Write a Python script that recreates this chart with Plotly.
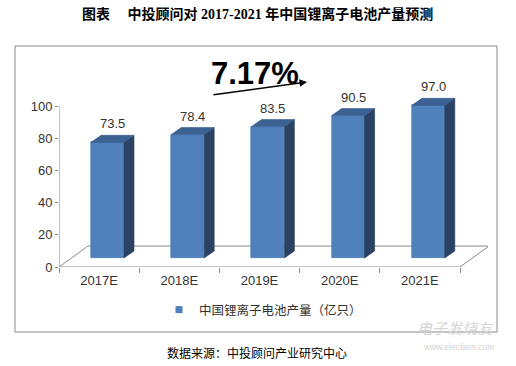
import plotly.graph_objects as go

# ---- data ----
categories = ["2017E", "2018E", "2019E", "2020E", "2021E"]
values = [73.5, 78.4, 83.5, 90.5, 97.0]
y_ticks = [0, 20, 40, 60, 80, 100]
series_name = "中国锂离子电池产量（亿只）"
title_text = "图表　 中投顾问对 2017-2021 年中国锂离子电池产量预测"
source_text = "数据来源：中投顾问产业研究中心"
growth_text = "7.17%"

# ---- layout geometry ----
W, H = 516, 366
ML, MR, MT, MB = 59, 28, 95, 99
PW = W - ML - MR
PH = H - MT - MB


def px_x(px):
    return (px - ML) / PW


def px_y(py):
    return (H - MB - py) / PH


FRONT = "#4F81BD"
SIDE = "#2A4365"
TOP = "#3C6193"
EDGE = "#4374B0"
GRAY = "#8a8a8a"
TXT = "#333333"

BAR_W = 0.41          # front face width (category units)
DX, DY = 0.125, 4.45  # bar depth offset (x2 units, y2 units)
FDX, FDY = 0.362, 13.0  # floor depth offset (x units, y units)

n = len(categories)
idx = list(range(n))

fig = go.Figure()

# front faces of bars
fig.add_trace(go.Bar(
    x=idx, y=values, xaxis="x2", yaxis="y2", width=BAR_W,
    marker=dict(color=FRONT, line=dict(color=EDGE, width=0.6)),
    showlegend=False, name=series_name,
    hovertemplate="%{y:.1f}<extra></extra>",
))

# legend entry
fig.add_trace(go.Scatter(
    x=[None], y=[None], mode="markers", name=series_name,
    marker=dict(symbol="square", size=7, color=FRONT),
))

shapes = []
# side and top faces
for i, v in zip(idx, values):
    xl = i - BAR_W / 2
    xr = i + BAR_W / 2
    shapes.append(dict(
        type="path", xref="x2", yref="y2", layer="above",
        path=f"M{xr},0 L{xr},{v} L{xr + DX},{v + DY} L{xr + DX},{DY} Z",
        fillcolor=SIDE, line=dict(color="#243a58", width=0.6),
    ))
    shapes.append(dict(
        type="path", xref="x2", yref="y2", layer="above",
        path=f"M{xl},{v} L{xr},{v} L{xr + DX},{v + DY} L{xl + DX},{v + DY} Z",
        fillcolor=TOP, line=dict(color="#36598a", width=0.6),
    ))

# floor and y-axis line
x0, x1 = -0.5, n - 0.5
floor_lines = [
    (x0, 0, x1, 0),
    (x0, 0, x0 + FDX, FDY),
    (x0 + FDX, FDY, x1 + FDX, FDY),
    (x1, 0, x1 + FDX, FDY),
    (x0, 0, x0, y_ticks[-1]),
]
for a, b, c, d in floor_lines:
    shapes.append(dict(type="line", xref="x", yref="y", layer="below",
                       x0=a, y0=b, x1=c, y1=d, line=dict(color=GRAY, width=1)))

# outer frame
shapes.append(dict(type="rect", xref="paper", yref="paper",
                   x0=px_x(15), x1=px_x(497), y0=px_y(332), y1=px_y(46),
                   line=dict(color=GRAY, width=1), layer="below"))

annotations = []
# data labels
for i, v in zip(idx, values):
    annotations.append(dict(
        x=i + DX / 2, y=v + DY, xref="x2", yref="y2", text=f"{v:.1f}",
        showarrow=False, yanchor="bottom", yshift=2,
        font=dict(family="Liberation Sans, Arial", size=13, color=TXT),
    ))

# title
annotations.append(dict(
    x=px_x(257), y=px_y(14), xref="paper", yref="paper",
    text="<b>" + title_text + "</b>", showarrow=False,
    xanchor="center", yanchor="middle",
    font=dict(family="Liberation Serif, Noto Sans CJK SC", size=14, color="#000"),
))
# growth rate
annotations.append(dict(
    x=px_x(255), y=px_y(73), xref="paper", yref="paper",
    text="<b>" + growth_text + "</b>", showarrow=False,
    xanchor="center", yanchor="middle",
    font=dict(family="Liberation Sans, Arial", size=31, color="#000"),
))
# arrow
annotations.append(dict(
    x=px_x(307), y=px_y(82), xref="paper", yref="paper", text="",
    showarrow=True, ax=-95, ay=13, arrowhead=2, arrowsize=1,
    arrowwidth=1.5, arrowcolor="#000", standoff=0, startstandoff=0,
))
# source
annotations.append(dict(
    x=px_x(257), y=px_y(352), xref="paper", yref="paper",
    text=source_text, showarrow=False, xanchor="center", yanchor="middle",
    font=dict(family="Noto Sans CJK SC", size=12, color="#000"),
))
# watermark
annotations.append(dict(
    x=px_x(455), y=px_y(327), xref="paper", yref="paper",
    text="<i>电子发烧友</i>", showarrow=False, xanchor="center", yanchor="middle",
    font=dict(family="Noto Sans CJK SC", size=15, color="#d6d6d6"),
))
annotations.append(dict(
    x=px_x(458), y=px_y(347), xref="paper", yref="paper",
    text="www.elecfans.com", showarrow=False, xanchor="center", yanchor="middle",
    font=dict(family="Liberation Sans", size=8.5, color="#d2d2d2"),
))

fig.update_layout(
    width=W, height=H,
    margin=dict(l=ML, r=MR, t=MT, b=MB, pad=0),
    paper_bgcolor="white", plot_bgcolor="white",
    shapes=shapes, annotations=annotations,
    showlegend=True,
    legend=dict(
        x=px_x(263), y=px_y(310), xanchor="center", yanchor="middle",
        orientation="h", bgcolor="rgba(0,0,0,0)",
        font=dict(family="Noto Sans CJK SC", size=12.5, color=TXT),
    ),
    xaxis=dict(
        range=[-0.5, -0.5 + PW / 80.2], tickmode="array", tickvals=idx,
        ticktext=categories, ticks="", showline=False, showgrid=False,
        zeroline=False, fixedrange=True,
        tickfont=dict(family="Liberation Sans, Arial", size=13, color=TXT),
        minor=dict(tickmode="array", tickvals=[k - 0.5 for k in range(n + 1)],
                   ticks="outside", ticklen=5, tickcolor=GRAY, showgrid=False),
        ticklabelstandoff=4,
    ),
    yaxis=dict(
        range=[0, PH / 1.61], tickmode="array", tickvals=y_ticks,
        ticks="outside", ticklen=3, tickcolor=GRAY, showline=False,
        showgrid=False, zeroline=False, fixedrange=True,
        tickfont=dict(family="Liberation Sans, Arial", size=13, color=TXT),
    ),
    xaxis2=dict(overlaying="x", range=[-0.605, -0.605 + PW / 80.2],
                visible=False, fixedrange=True),
    yaxis2=dict(overlaying="y", range=[(258 - 267) / 1.574, (258 - MT) / 1.574],
                visible=False, fixedrange=True),
    bargap=0,
)

fig.write_html(
    "out.html",
    config={"displayModeBar": False},
    post_script="document.body.style.margin='0';document.body.style.overflow='hidden';",
)
